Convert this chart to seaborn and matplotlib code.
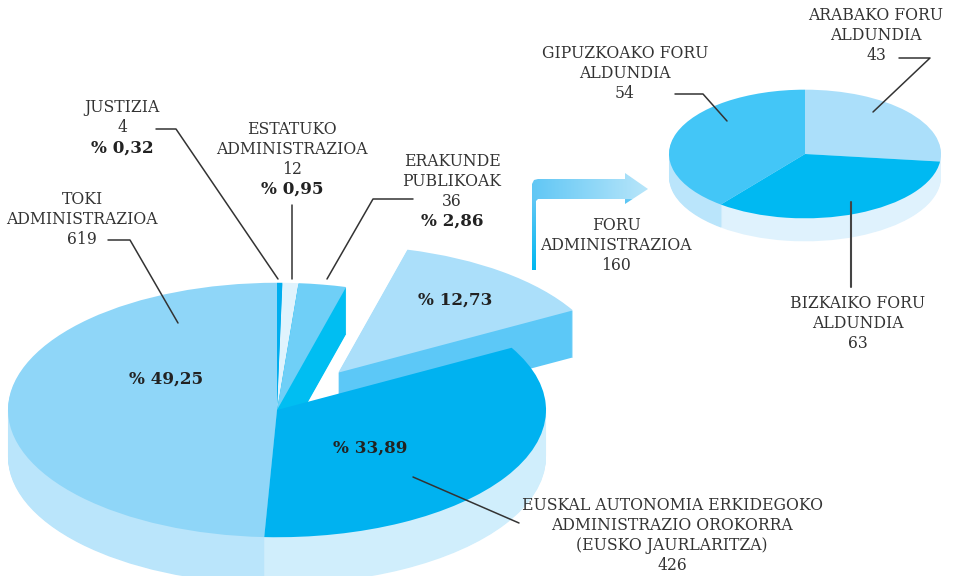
import numpy as np
import matplotlib
matplotlib.use("Agg")
import matplotlib.pyplot as plt
from matplotlib.patches import Polygon
import seaborn as sns

# main pie, counter clockwise from 12 o'clock
main_names = ["Toki", "Eusko", "Foru", "Erakunde", "Estatuko", "Justizia"]
main_values = [619, 426, 160, 36, 12, 4]
main_tops = ["#8FD6F8", "#00B2F0", "#ABDFFA", "#6FCFF7", "#E0F3FD", "#00AEEF"]
main_sides = ["#BAE5FB", "#D0EEFC", "#5CC8F7", "#00BEF2", "#E0F3FD", "#00AEEF"]

# small pie, clockwise from 12 o'clock
foru_values = [43, 54, 63]
foru_tops = ["#ABDFFA", "#00B9F2", "#43C6F7"]
foru_sides = ["#DFF2FD", "#DFF2FD", "#BAE5FB"]

SQUASH = 0.473
TEXT = "#333333"

sns.set_theme(style="white")
plt.rcParams["font.family"] = ["DejaVu Serif"]

fig = plt.figure(figsize=(9.55, 5.76), dpi=100)
ax = fig.add_axes([0, 0, 1, 1])


def draw_slices(values, tops, sides, show, center, radius, depth, explode=None, counterclock=True):
    # stack of flat pies going up, the last one is the top face
    cx, cy = center
    for d in range(depth, -1, -1):
        base = sides if d > 0 else tops
        colors = [c if i in show else "none" for i, c in enumerate(base)]
        ax.pie(values, colors=colors, startangle=90, counterclock=counterclock,
               center=(cx, (576 - cy - d) / SQUASH), radius=radius, explode=explode,
               wedgeprops={"linewidth": 0})


# explode is in data units for pie wedges here, not a share of the radius
main_explode = [0, 0, 100, 0, 0, 0]
for show in ([2], [4, 5], [3], [0, 1]):
    draw_slices(main_values, sns.color_palette(main_tops), sns.color_palette(main_sides),
                show, (277, 410), 269, 47, explode=main_explode)
draw_slices(foru_values, sns.color_palette(foru_tops), sns.color_palette(foru_sides),
            [0, 1, 2], (805, 154), 136, 23, counterclock=False)

ax.set_aspect("auto")
ax.set_xlim(0, 955)
ax.set_ylim(0, 576 / SQUASH)
ax.axis("off")

# overlay in pixel coords for the labels
ann = fig.add_axes([0, 0, 1, 1])
ann.patch.set_alpha(0)
ann.axis("off")

# gradient arrow
xs = np.linspace(0, 1, 120)
ys = np.linspace(0, 1, 100)
grad = np.zeros((100, 120, 3))
light = np.array([0.72, 0.90, 0.98])
mid = np.array([0.38, 0.78, 0.96])
deep = np.array([0.0, 0.72, 0.94])
for j, yy in enumerate(ys):
    for i, xx in enumerate(xs):
        if yy < 0.27:
            grad[j, i] = mid + (light - mid) * xx
        else:
            grad[j, i] = mid + (deep - mid) * (yy - 0.27) / 0.73
im = ann.imshow(grad, extent=(532, 648, 270, 173), aspect="auto", zorder=3)
arrow_shape = [(532, 270), (532, 184), (534, 180), (538, 179), (625, 179), (625, 173), (648, 189),
               (625, 204), (625, 199), (538, 199), (536, 201), (536, 270)]
im.set_clip_path(Polygon(arrow_shape, transform=ann.transData))

leaders = [
    ([156, 176, 278], [129, 129, 279]),
    ([292, 292], [205, 279]),
    ([413, 373, 327], [199, 199, 279]),
    ([108, 130, 178], [240, 240, 323]),
    ([413, 519], [477, 523]),
    ([899, 930, 873], [58, 58, 112]),
    ([675, 703, 727], [94, 94, 121]),
]
for lx, ly in leaders:
    sns.lineplot(x=lx, y=ly, sort=False, estimator=None, color=TEXT, linewidth=1.1, ax=ann, zorder=4)
sns.lineplot(x=[851, 851], y=[202, 287], sort=False, estimator=None, color="#444444", linewidth=1.5, ax=ann, zorder=4)

labels = [
    (876, [16, 36, 56], ["ARABAKO FORU", "ALDUNDIA", "43"]),
    (625, [54, 74, 94], ["GIPUZKOAKO FORU", "ALDUNDIA", "54"]),
    (616, [225, 245, 265], ["FORU", "ADMINISTRAZIOA", "160"]),
    (858, [304, 324, 344], ["BIZKAIKO FORU", "ALDUNDIA", "63"]),
    (122, [108, 128], ["JUSTIZIA", "4"]),
    (292, [129, 149, 169], ["ESTATUKO", "ADMINISTRAZIOA", "12"]),
    (452, [161, 181, 201], ["ERAKUNDE", "PUBLIKOAK", "36"]),
    (82, [199, 219, 239], ["TOKI", "ADMINISTRAZIOA", "619"]),
    (672, [505, 525, 545, 565], ["EUSKAL AUTONOMIA ERKIDEGOKO", "ADMINISTRAZIO OROKORRA",
                                 "(EUSKO JAURLARITZA)", "426"]),
]
for x, rows, lines in labels:
    for y, line in zip(rows, lines):
        ann.text(x, y, line, ha="center", va="center", color=TEXT, fontsize=12.5, stretch="condensed", zorder=5)

percents = [
    (122, 148, "% 0,32"), (292, 189, "% 0,95"), (452, 221, "% 2,86"),
    (455, 300, "% 12,73"), (166, 379, "% 49,25"), (370, 448, "% 33,89"),
]
for x, y, p in percents:
    ann.text(x, y, p, ha="center", va="center", color="#222222", fontsize=12.1,
             fontweight="bold", zorder=5)

ann.set_xlim(0, 955)
ann.set_ylim(576, 0)

fig.savefig("out.png", dpi=100)
